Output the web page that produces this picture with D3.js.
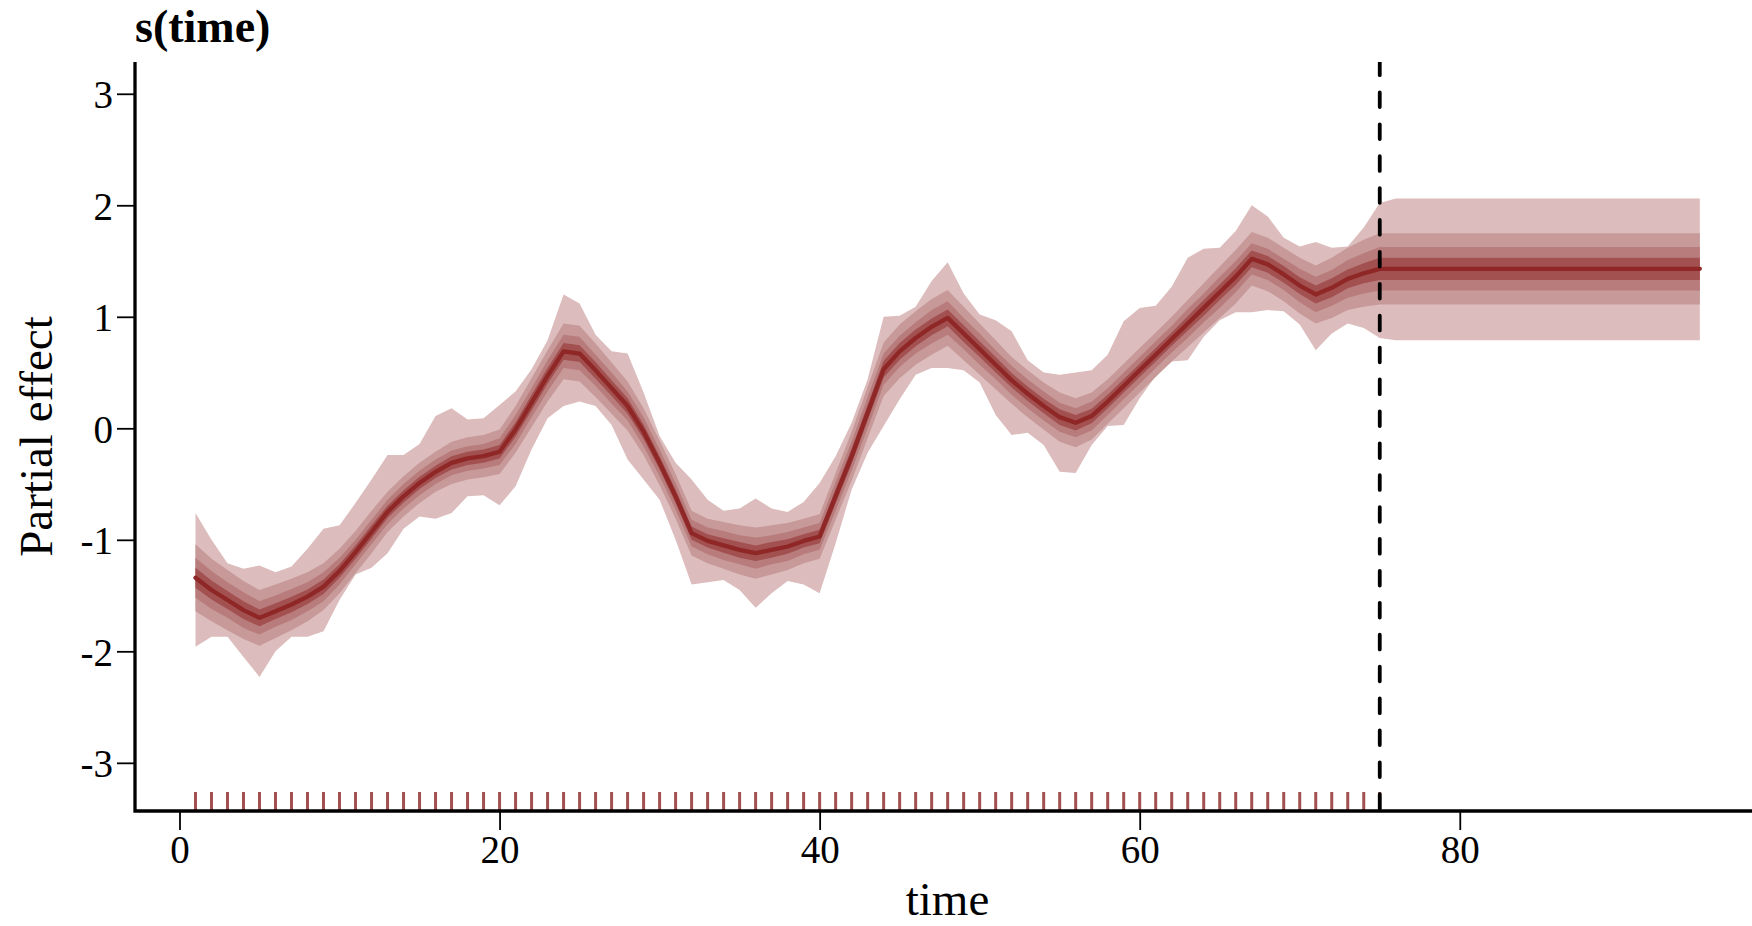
<!DOCTYPE html>
<html>
<head>
<meta charset="utf-8">
<style>
body { margin: 0; background: #ffffff; }
svg { display: block; }
</style>
</head>

<body></body>

<script src="https://d3js.org/d3.v7.min.js"></script>

<script>

// time points (1-75 observed, 76-95 forecast horizon)
var time = [1,2,3,4,5,6,7,8,9,10,11,12,13,14,15,16,17,18,19,20,
	21,22,23,24,25,26,27,28,29,30,31,32,33,34,35,36,37,38,39,40,
	41,42,43,44,45,46,47,48,49,50,51,52,53,54,55,56,57,58,59,60,
	61,62,63,64,65,66,67,68,69,70,71,72,73,74,75,
	76,77,78,79,80,81,82,83,84,85,86,87,88,89,90,91,92,93,94,95];

// observed times for the rug
var rugTimes = [1,2,3,4,5,6,7,8,9,10,11,12,13,14,15,16,17,18,19,20,
	21,22,23,24,25,26,27,28,29,30,31,32,33,34,35,36,37,38,39,40,
	41,42,43,44,45,46,47,48,49,50,51,52,53,54,55,56,57,58,59,60,
	61,62,63,64,65,66,67,68,69,70,71,72,73,74,75];

var lastObs = 75;

// posterior median of s(time)
var median = [-1.34,-1.45,-1.54,-1.63,-1.70,-1.64,-1.58,-1.51,-1.42,-1.28,
	-1.11,-0.93,-0.75,-0.61,-0.49,-0.39,-0.31,-0.27,-0.25,-0.21,
	-0.01,0.23,0.47,0.69,0.67,0.52,0.36,0.20,-0.03,-0.31,
	-0.61,-0.94,-1.01,-1.05,-1.09,-1.12,-1.09,-1.06,-1.01,-0.97,
	-0.61,-0.25,0.14,0.53,0.69,0.81,0.91,0.99,0.85,0.71,
	0.57,0.43,0.31,0.20,0.10,0.05,0.11,0.24,0.38,0.52,
	0.66,0.80,0.94,1.08,1.22,1.36,1.52,1.47,1.38,1.28,
	1.20,1.26,1.34,1.39,1.43,
	1.43,1.43,1.43,1.43,1.43,1.43,1.43,1.43,1.43,1.43,
	1.43,1.43,1.43,1.43,1.43,1.43,1.43,1.43,1.43,1.43];

// outer interval (5% / 95%)
var lower95 = [-1.96,-1.87,-1.87,-2.05,-2.23,-2.00,-1.87,-1.87,-1.82,-1.54,
	-1.31,-1.25,-1.12,-0.90,-0.79,-0.81,-0.76,-0.61,-0.60,-0.69,
	-0.52,-0.19,0.09,0.20,0.24,0.20,0.03,-0.28,-0.46,-0.64,
	-1.00,-1.40,-1.38,-1.36,-1.45,-1.61,-1.48,-1.37,-1.40,-1.48,
	-1.03,-0.55,-0.22,0.02,0.26,0.48,0.54,0.54,0.52,0.41,
	0.12,-0.06,-0.04,-0.15,-0.39,-0.40,-0.15,0.02,0.03,0.27,
	0.47,0.60,0.61,0.82,0.97,1.04,1.04,1.06,1.05,0.93,
	0.70,0.85,0.94,0.90,0.81,
	0.79,0.79,0.79,0.79,0.79,0.79,0.79,0.79,0.79,0.79,
	0.79,0.79,0.79,0.79,0.79,0.79,0.79,0.79,0.79,0.79];

var upper95 = [-0.76,-1.00,-1.21,-1.26,-1.23,-1.29,-1.24,-1.08,-0.90,-0.87,
	-0.67,-0.46,-0.24,-0.24,-0.14,0.11,0.18,0.08,0.09,0.21,
	0.33,0.53,0.79,1.20,1.12,0.84,0.69,0.67,0.32,-0.07,
	-0.31,-0.46,-0.64,-0.74,-0.72,-0.63,-0.72,-0.75,-0.66,-0.49,
	-0.25,0.05,0.44,1.00,1.01,1.09,1.32,1.49,1.21,1.02,
	0.97,0.87,0.61,0.50,0.48,0.50,0.52,0.66,0.96,1.08,
	1.10,1.27,1.53,1.61,1.62,1.77,2.00,1.90,1.71,1.63,
	1.67,1.62,1.63,1.80,2.02,
	2.06,2.06,2.06,2.06,2.06,2.06,2.06,2.06,2.06,2.06,
	2.06,2.06,2.06,2.06,2.06,2.06,2.06,2.06,2.06,2.06];

// half widths of the inner intervals (20-80, 30-70, 40-60) around the median
var half80 = [0.30,0.28,0.27,0.26,0.25,0.24,0.23,0.22,0.21,0.20,
	0.19,0.19,0.18,0.18,0.18,0.18,0.19,0.19,0.19,0.20,
	0.21,0.22,0.23,0.25,0.25,0.24,0.23,0.22,0.21,0.20,
	0.20,0.20,0.20,0.21,0.22,0.23,0.22,0.21,0.20,0.20,
	0.21,0.22,0.23,0.24,0.24,0.24,0.25,0.25,0.24,0.23,
	0.22,0.21,0.21,0.21,0.22,0.22,0.21,0.20,0.20,0.20,
	0.20,0.20,0.21,0.22,0.23,0.24,0.24,0.24,0.24,0.25,
	0.26,0.27,0.28,0.30,0.32,
	0.32,0.32,0.32,0.32,0.32,0.32,0.32,0.32,0.32,0.32,
	0.32,0.32,0.32,0.32,0.32,0.32,0.32,0.32,0.32,0.32];

var half70 = [0.18,0.17,0.16,0.16,0.15,0.14,0.14,0.13,0.13,0.12,
	0.11,0.11,0.11,0.11,0.11,0.11,0.11,0.11,0.11,0.12,
	0.13,0.13,0.14,0.15,0.15,0.14,0.14,0.13,0.13,0.12,
	0.12,0.12,0.12,0.13,0.13,0.14,0.13,0.13,0.12,0.12,
	0.13,0.13,0.14,0.14,0.14,0.14,0.15,0.15,0.14,0.14,
	0.13,0.13,0.13,0.13,0.13,0.13,0.13,0.12,0.12,0.12,
	0.12,0.12,0.13,0.13,0.14,0.14,0.14,0.14,0.14,0.15,
	0.16,0.16,0.17,0.18,0.195,
	0.195,0.195,0.195,0.195,0.195,0.195,0.195,0.195,0.195,0.195,
	0.195,0.195,0.195,0.195,0.195,0.195,0.195,0.195,0.195,0.195];

var half60 = [0.09,0.085,0.08,0.08,0.075,0.07,0.07,0.065,0.065,0.06,
	0.06,0.06,0.055,0.055,0.055,0.055,0.06,0.06,0.06,0.06,
	0.065,0.07,0.07,0.075,0.075,0.075,0.07,0.07,0.065,0.06,
	0.06,0.06,0.06,0.065,0.07,0.07,0.07,0.065,0.06,0.06,
	0.065,0.07,0.07,0.075,0.075,0.075,0.075,0.075,0.075,0.07,
	0.07,0.065,0.065,0.065,0.07,0.07,0.065,0.06,0.06,0.06,
	0.06,0.06,0.065,0.07,0.07,0.075,0.075,0.075,0.075,0.075,
	0.08,0.085,0.085,0.09,0.10,
	0.10,0.10,0.10,0.10,0.10,0.10,0.10,0.10,0.10,0.10,
	0.10,0.10,0.10,0.10,0.10,0.10,0.10,0.10,0.10,0.10];

var xTicks = [0, 20, 40, 60, 80];
var yTicks = [-3, -2, -1, 0, 1, 2, 3];

var width = 1752, height = 926;
var plotLeft = 135, plotRight = 1760, plotTop = 62, plotBottom = 811;
var serif = "'Liberation Serif', 'Times New Roman', Times, serif";

var xScale = d3.scaleLinear()
		.domain([-2.78, 98.76])
		.range([plotLeft, plotRight]);

var yScale = d3.scaleLinear()
		.domain([-3.432, 3.285])
		.range([plotBottom, plotTop]);

var rows = time.map((t, i) => ({
	t: t, med: median[i], lo: lower95[i], hi: upper95[i],
	w80: half80[i], w70: half70[i], w60: half60[i]
}));

var svg = d3.select("body").append("svg")
	.attr("width", width)
	.attr("height", height);

svg.append("defs").append("clipPath")
	.attr("id", "plotclip")
      .append("rect")
	.attr("x", plotLeft)
	.attr("y", plotTop)
	.attr("width", plotRight - plotLeft)
	.attr("height", plotBottom - plotTop);

// credible bands, widest first
var bands = [
	{fill: "#DCBCBC", lo: d => d.lo, hi: d => d.hi},
	{fill: "#C79999", lo: d => d.med - d.w80, hi: d => d.med + d.w80},
	{fill: "#B97C7C", lo: d => d.med - d.w70, hi: d => d.med + d.w70},
	{fill: "#A25050", lo: d => d.med - d.w60, hi: d => d.med + d.w60}
];

bands.forEach(b => {
	var area = d3.area()
		.x(d => xScale(d.t))
		.y0(d => yScale(b.lo(d)))
		.y1(d => yScale(b.hi(d)));
	svg.append("path")
		.datum(rows)
		.attr("fill", b.fill)
		.attr("stroke", "none")
		.attr("d", area);
});

var line = d3.line()
	.x(d => xScale(d.t))
	.y(d => yScale(d.med));

svg.append("path")
	.datum(rows)
	.attr("fill", "none")
	.attr("stroke", "#8F2727")
	.attr("stroke-width", 4.3)
	.attr("stroke-linecap", "round")
	.attr("stroke-linejoin", "round")
	.attr("d", line);

// rug of observed times
svg.append("g").selectAll("line")
	.data(rugTimes)
      .enter().append("line")
	.attr("x1", d => xScale(d))
	.attr("x2", d => xScale(d))
	.attr("y1", plotBottom)
	.attr("y2", plotBottom - 19)
	.attr("stroke", "#A25050")
	.attr("stroke-width", 3);

// end of training data
svg.append("line")
	.attr("clip-path", "url(#plotclip)")
	.attr("x1", xScale(lastObs))
	.attr("x2", xScale(lastObs))
	.attr("y1", plotTop)
	.attr("y2", plotBottom)
	.attr("stroke", "#000")
	.attr("stroke-width", 3.8)
	.attr("stroke-linecap", "round")
	.attr("stroke-dasharray", "14.7 17.2")
	.attr("stroke-dashoffset", 1.5);

// axes
var yAxis = svg.append("g")
	.attr("transform", "translate(" + plotLeft + ",0)")
	.call(d3.axisLeft(yScale).tickValues(yTicks).tickSize(18).tickPadding(4)
		.tickFormat(d => String(d)));

var xAxis = svg.append("g")
	.attr("transform", "translate(0," + plotBottom + ")")
	.call(d3.axisBottom(xScale).tickValues(xTicks).tickSize(19).tickPadding(5)
		.tickFormat(d => String(d)));

[yAxis, xAxis].forEach(g => {
	g.select(".domain").remove();
	g.selectAll(".tick line").attr("stroke", "#000").attr("stroke-width", 1.8);
	g.selectAll("text")
		.attr("fill", "#000")
		.attr("font-family", serif)
		.attr("font-size", 39);
});
yAxis.selectAll("text").attr("dy", "0.36em");

svg.append("path")
	.attr("d", "M" + plotLeft + "," + plotTop + "V" + plotBottom + "H" + width)
	.attr("fill", "none")
	.attr("stroke", "#000")
	.attr("stroke-width", 3.3)
	.attr("stroke-linejoin", "miter");

// labels
svg.append("text")
	.attr("x", 135)
	.attr("y", 42)
	.attr("font-family", serif)
	.attr("font-size", 46)
	.attr("font-weight", "bold")
	.text("s(time)");

svg.append("text")
	.attr("x", (plotLeft + plotRight) / 2)
	.attr("y", 915)
	.attr("text-anchor", "middle")
	.attr("font-family", serif)
	.attr("font-size", 47)
	.text("time");

svg.append("text")
	.attr("transform", "translate(52," + ((plotTop + plotBottom) / 2) + ") rotate(-90)")
	.attr("text-anchor", "middle")
	.attr("font-family", serif)
	.attr("font-size", 47)
	.text("Partial effect");

</script>

</html>
